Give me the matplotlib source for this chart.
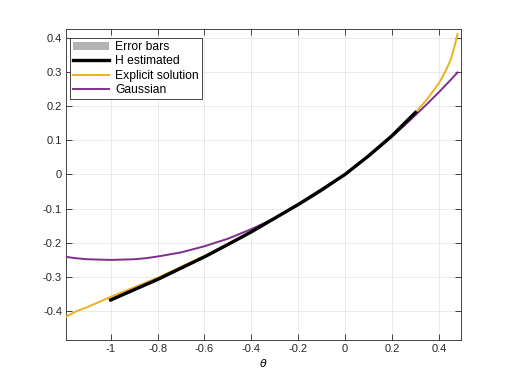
import numpy as np
import matplotlib
matplotlib.use("Agg")
import matplotlib.pyplot as plt
from matplotlib.patches import Patch
from matplotlib.lines import Line2D

plt.rcParams['font.family'] = ['Liberation Sans', 'DejaVu Sans']
plt.rcParams['axes.unicode_minus'] = False

# explicit solution
theta_exp = [-1.19, -1.15, -1.1, -1.05, -1.0, -0.95, -0.9, -0.85, -0.8, -0.75, -0.7,
             -0.65, -0.6, -0.55, -0.5, -0.45, -0.4, -0.35, -0.3, -0.25, -0.2, -0.15,
             -0.1, -0.05, 0.0, 0.05, 0.1, 0.15, 0.2, 0.25, 0.3, 0.35, 0.4, 0.41,
             0.42, 0.43, 0.44, 0.45, 0.46, 0.47, 0.48]
y_exp = [-0.416, -0.401, -0.388, -0.373, -0.358, -0.344, -0.330, -0.316, -0.302,
         -0.286, -0.270, -0.254, -0.238, -0.221, -0.203, -0.185, -0.167, -0.148,
         -0.128, -0.108, -0.088, -0.067, -0.045, -0.022, 0.0, 0.027, 0.054, 0.083,
         0.113, 0.146, 0.180, 0.220, 0.266, 0.278, 0.291, 0.304, 0.319, 0.334,
         0.357, 0.382, 0.41]

# gaussian approximation
theta_gau = [-1.19, -1.15, -1.1, -1.05, -1.0, -0.95, -0.9, -0.85, -0.8, -0.75, -0.7,
             -0.65, -0.6, -0.55, -0.5, -0.45, -0.4, -0.35, -0.3, -0.25, -0.2, -0.15,
             -0.1, -0.05, 0.0, 0.05, 0.1, 0.15, 0.2, 0.25, 0.3, 0.35, 0.4, 0.45, 0.48]
y_gau = [-0.241, -0.245, -0.248, -0.249, -0.250, -0.249, -0.248, -0.245, -0.240,
         -0.234, -0.228, -0.219, -0.210, -0.199, -0.188, -0.174, -0.160, -0.144,
         -0.128, -0.109, -0.090, -0.069, -0.048, -0.024, 0.0, 0.026, 0.053, 0.081,
         0.110, 0.141, 0.173, 0.206, 0.240, 0.276, 0.298]

# H estimated + error bars
theta_h = [-1.0, -0.9, -0.8, -0.7, -0.6, -0.5, -0.4, -0.3, -0.2, -0.1, 0.0, 0.1, 0.2, 0.3]
y_h = [-0.367, -0.337, -0.307, -0.274, -0.241, -0.205, -0.168, -0.128, -0.088,
       -0.045, 0.0, 0.054, 0.113, 0.181]
err_h = [0.003, 0.003, 0.003, 0.002, 0.002, 0.002, 0.002, 0.002, 0.002, 0.002,
         0.002, 0.002, 0.002, 0.003]

yellow = '#EDB120'
purple = '#7E2F8E'
gray = '#B3B3B3'

fig = plt.figure(figsize=(5.09, 3.82), dpi=100)
ax = fig.add_axes([0.13, 0.11, 0.775, 0.815])

lo = np.array(y_h) - np.array(err_h)
hi = np.array(y_h) + np.array(err_h)
ax.fill_between(theta_h, lo, hi, color=gray, lw=0, zorder=2)
ax.plot(theta_exp, y_exp, color=yellow, lw=1.4, zorder=3)
ax.plot(theta_gau, y_gau, color=purple, lw=1.4, zorder=3)
ax.plot(theta_h, y_h, color='black', lw=2.4, zorder=4)

ax.set_xlim(-1.19, 0.493)
ax.set_ylim(-0.484, 0.426)
xt = [-1, -0.8, -0.6, -0.4, -0.2, 0, 0.2, 0.4]
yt = [-0.4, -0.3, -0.2, -0.1, 0, 0.1, 0.2, 0.3, 0.4]
ax.set_xticks(xt)
ax.set_xticklabels(['%g' % v for v in xt])
ax.set_yticks(yt)
ax.set_yticklabels(['%g' % v for v in yt])
ax.tick_params(direction='in', length=4, width=0.6, labelsize=8, top=True, right=True,
               colors='#262626', labelcolor='#262626', pad=3)
ax.grid(True, color='#E6E6E6', lw=0.6, zorder=0)
ax.set_axisbelow(True)
for s in ax.spines.values():
    s.set_color('#262626')
    s.set_linewidth(0.6)
ax.set_xlabel(r'$\theta$', fontsize=8, labelpad=2)

handles = [Patch(facecolor=gray, edgecolor='none'),
           Line2D([], [], color='black', lw=2.4),
           Line2D([], [], color=yellow, lw=1.4),
           Line2D([], [], color=purple, lw=1.4)]
labels = ['Error bars', 'H estimated', 'Explicit solution', 'Gaussian']
leg = ax.legend(handles, labels, loc='upper left', bbox_to_anchor=(0.010, 0.970),
                borderaxespad=0, fontsize=8.7, fancybox=False, framealpha=1,
                edgecolor='#262626', handlelength=3.0, handletextpad=0.5,
                labelspacing=0.2, borderpad=0.25)
leg.get_frame().set_linewidth(0.6)

fig.savefig('out.png', dpi=100)
